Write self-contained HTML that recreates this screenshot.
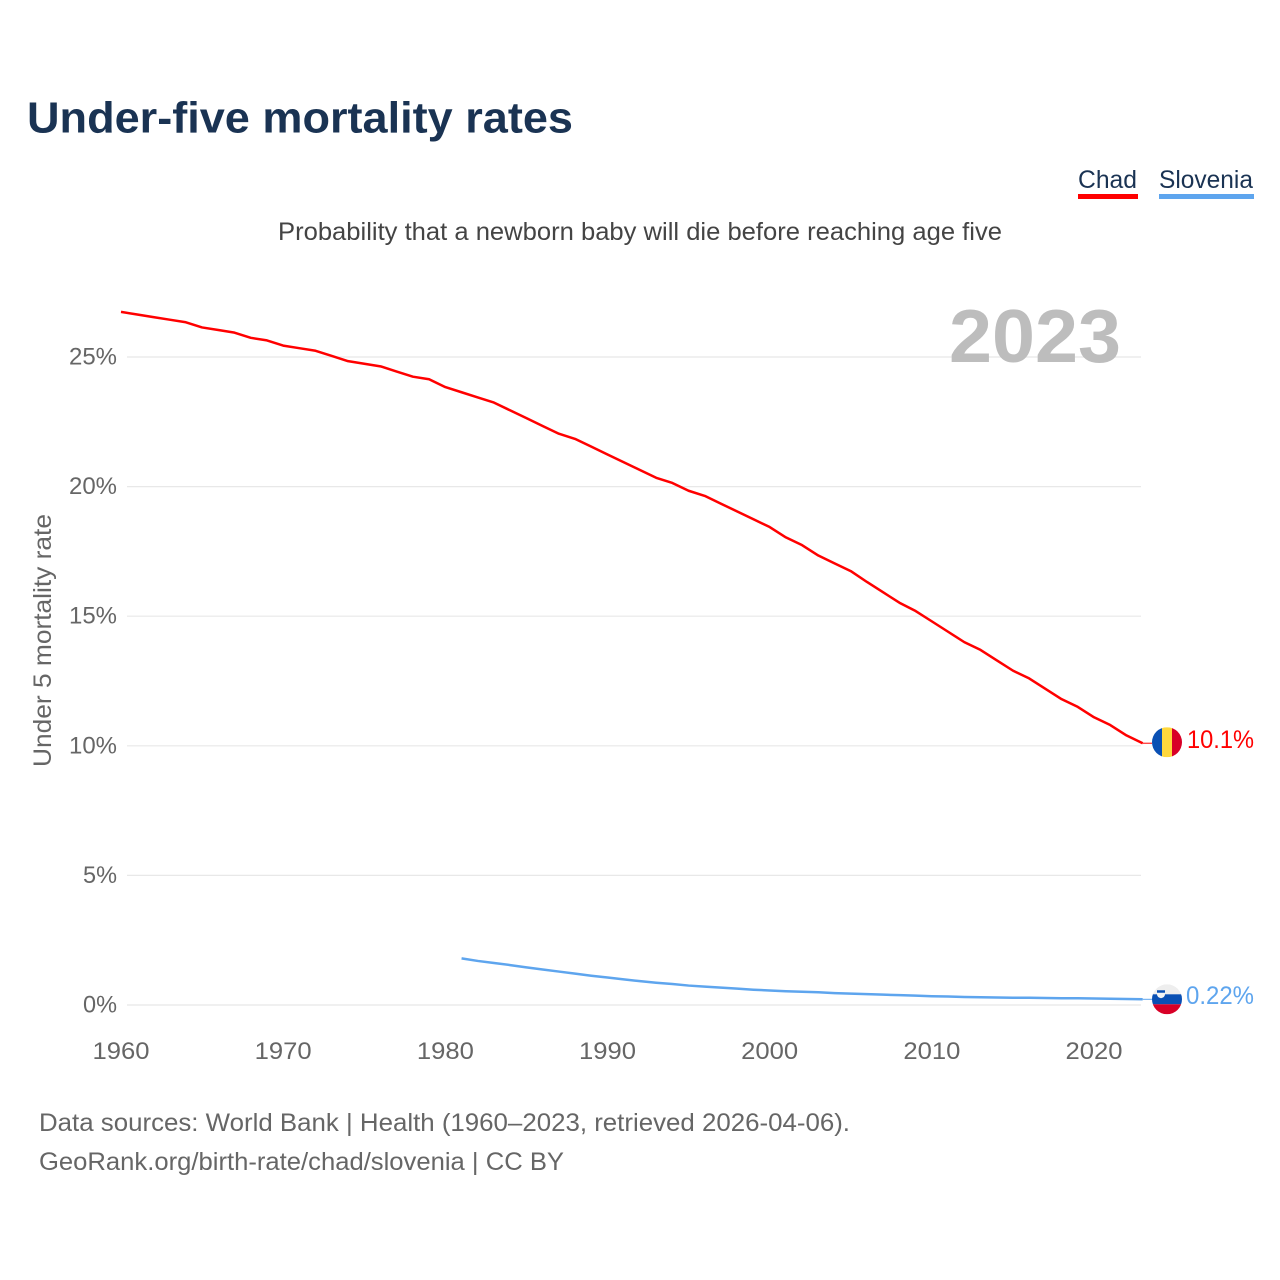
<!DOCTYPE html>
<html lang="en">
<head>
<meta charset="utf-8">
<title>Under-five mortality rates</title>
<style>
html,body{margin:0;padding:0;background:#fff;width:1280px;height:1280px;overflow:hidden}
svg{display:block;font-family:"Liberation Sans",sans-serif}
</style>
</head>
<body>
<svg id="chart" xmlns="http://www.w3.org/2000/svg" width="1280" height="1280" viewBox="0 0 1280 1280">
  <defs>
    <clipPath id="flag-clip"><circle cx="0" cy="0" r="15"/></clipPath>
  </defs>
  <rect x="0" y="0" width="1280" height="1280" fill="#fff"/>
  <text x="27" y="132.5" font-size="44" font-weight="700" fill="#1a3353" textLength="546" lengthAdjust="spacingAndGlyphs">Under-five mortality rates</text>
  <text x="278" y="240" font-size="25" fill="#444" textLength="724" lengthAdjust="spacingAndGlyphs">Probability that a newborn baby will die before reaching age five</text>

  <g>
    <g>
      <text x="1078" y="188" font-size="25" fill="#1a3353" textLength="59" lengthAdjust="spacingAndGlyphs">Chad</text>
      <rect x="1078" y="194" width="60" height="5" fill="#ff0000"/>
    </g>
    <g>
      <text x="1159" y="188" font-size="25" fill="#1a3353" textLength="94" lengthAdjust="spacingAndGlyphs">Slovenia</text>
      <rect x="1159" y="194" width="95" height="5" fill="#5ea5ee"/>
    </g>
  </g>

  <g id="grid"></g>
  <text x="949" y="362" font-size="75" font-weight="700" fill="#bdbdbd" textLength="172" lengthAdjust="spacingAndGlyphs">2023</text>
  <g id="y-ticks"></g>
  <g id="x-ticks"></g>
  <text transform="translate(51,767) rotate(-90)" x="0" y="0" font-size="25" fill="#666" textLength="253" lengthAdjust="spacingAndGlyphs">Under 5 mortality rate</text>

  <g id="series"></g>

  <g id="flag-chad">
    <g clip-path="url(#flag-clip)">
      <rect x="-15" y="-15" width="10" height="30" fill="#0a50b4"/>
      <rect x="-5" y="-15" width="10" height="30" fill="#ffd83d"/>
      <rect x="5" y="-15" width="10" height="30" fill="#d80027"/>
    </g>
  </g>
  <g id="flag-slovenia">
    <g clip-path="url(#flag-clip)">
      <rect x="-15" y="-15" width="30" height="10" fill="#eeeeee"/>
      <rect x="-15" y="-5" width="30" height="10" fill="#0a50b4"/>
      <rect x="-15" y="5" width="30" height="10" fill="#d80027"/>
      <path d="M-10 -9 h8 v4 q0 3 -4 4 q-4 -1 -4 -4 z" fill="#f4f4f4"/>
      <path d="M-10 -9 h8 v2.5 h-8 z" fill="#0a50b4"/>
    </g>
  </g>
  <text id="value-chad" x="1187" y="748" font-size="25" fill="#ff0000" textLength="67" lengthAdjust="spacingAndGlyphs"></text>
  <text id="value-slovenia" x="1186" y="1004" font-size="25" fill="#5ea5ee" textLength="68" lengthAdjust="spacingAndGlyphs"></text>

  <text x="39" y="1131" font-size="25" fill="#666" textLength="811" lengthAdjust="spacingAndGlyphs">Data sources: World Bank | Health (1960–2023, retrieved 2026-04-06).</text>
  <text x="39" y="1170" font-size="25" fill="#666" textLength="525" lengthAdjust="spacingAndGlyphs">GeoRank.org/birth-rate/chad/slovenia | CC BY</text>
</svg>
<script>
const yTickValues = [0, 5, 10, 15, 20, 25];
const xTickYears = [1960, 1970, 1980, 1990, 2000, 2010, 2020];
const chadStartYear = 1960;
const chadValues = [26.74,26.64,26.54,26.44,26.34,26.14,26.04,25.94,25.74,25.64,25.44,25.34,25.24,25.04,24.84,24.74,24.64,24.44,24.24,24.14,23.84,23.64,23.44,23.24,22.94,22.64,22.34,22.04,21.84,21.54,21.24,20.94,20.64,20.34,20.14,19.84,19.64,19.34,19.04,18.74,18.44,18.04,17.74,17.34,17.04,16.74,16.32,15.92,15.52,15.2,14.8,14.4,14.0,13.7,13.3,12.9,12.6,12.2,11.8,11.5,11.1,10.8,10.4,10.1];
const sloveniaStartYear = 1981;
const sloveniaValues = [1.8,1.7,1.62,1.54,1.45,1.37,1.29,1.21,1.13,1.06,0.99,0.92,0.86,0.81,0.75,0.71,0.67,0.63,0.59,0.56,0.53,0.51,0.49,0.46,0.44,0.42,0.40,0.38,0.36,0.34,0.33,0.31,0.30,0.29,0.28,0.28,0.27,0.26,0.26,0.25,0.24,0.23,0.22];
const chadValueLabel = "10.1%";
const sloveniaValueLabel = "0.22%";

const NS = "http://www.w3.org/2000/svg";
function xScale(year) { return 121 + (year - 1960) * 16.217; }
function yScale(value) { return 1005 - value * 25.92; }
function make(tag, attrs, parent) {
  const el = document.createElementNS(NS, tag);
  for (const k in attrs) el.setAttribute(k, attrs[k]);
  parent.appendChild(el);
  return el;
}

const gridGroup = document.getElementById("grid");
const yTickGroup = document.getElementById("y-ticks");
const xTickGroup = document.getElementById("x-ticks");
const seriesGroup = document.getElementById("series");

yTickValues.forEach(function (v) {
  const line = make("line", {x1: 127, x2: 1141, y1: yScale(v), y2: yScale(v), stroke: "#e8e8e8", "stroke-width": 1.2}, gridGroup);
  
  
  const s = v + "%";
  const t = make("text", {x: 117, y: yScale(v) + 7.5, "text-anchor": "end", "font-size": 24, fill: "#666", textLength: 14 * s.length + 6, lengthAdjust: "spacingAndGlyphs"}, yTickGroup);
  
  
  t.textContent = s;
});

xTickYears.forEach(function (yr) {
  const t = make("text", {x: xScale(yr), y: 1059, "text-anchor": "middle", "font-size": 24, fill: "#666", textLength: 57, lengthAdjust: "spacingAndGlyphs"}, xTickGroup);
  
  
  t.textContent = yr;
});

function linePath(startYear, values) {
  return values.map(function (v, i) {
    return (i ? "L" : "M") + xScale(startYear + i).toFixed(2) + " " + yScale(v).toFixed(2);
  }).join(" ");
}

const chadLine = make("path", {d: linePath(chadStartYear, chadValues), fill: "none", stroke: "#ff0000", "stroke-width": 2.5, "stroke-linejoin": "round"}, seriesGroup);



const sloveniaLine = make("path", {d: linePath(sloveniaStartYear, sloveniaValues), fill: "none", stroke: "#5ea5ee", "stroke-width": 2.5, "stroke-linejoin": "round"}, seriesGroup);



const chadLast = chadValues[chadValues.length - 1];
const sloveniaLast = sloveniaValues[sloveniaValues.length - 1];
const endX = xScale(2023);

const chadLead = make("line", {x1: endX, x2: 1152, y1: yScale(chadLast), y2: yScale(chadLast), stroke: "#ff0000", "stroke-width": 1}, seriesGroup);



const sloveniaLead = make("line", {x1: endX, x2: 1152, y1: yScale(sloveniaLast), y2: yScale(sloveniaLast), stroke: "#5ea5ee", "stroke-width": 1}, seriesGroup);



document.getElementById("flag-chad").setAttribute("transform", "translate(1167 " + (yScale(chadLast) - 1) + ")");
document.getElementById("flag-slovenia").setAttribute("transform", "translate(1167 " + yScale(sloveniaLast) + ")");
document.getElementById("value-chad").textContent = chadValueLabel;
document.getElementById("value-slovenia").textContent = sloveniaValueLabel;
</script>
</body>
</html>
